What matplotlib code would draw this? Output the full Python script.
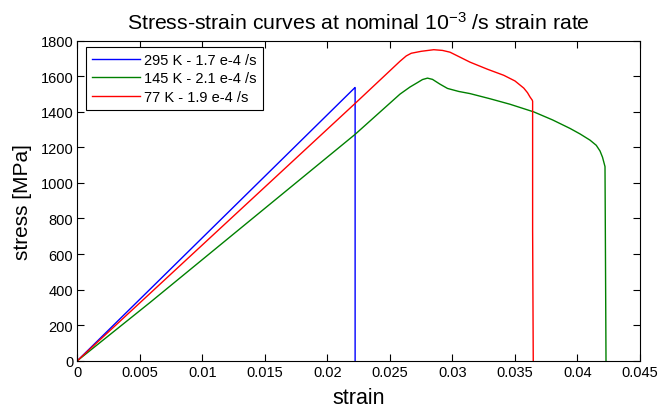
import numpy as np
import matplotlib
matplotlib.use('Agg')
import matplotlib.pyplot as plt

plt.rcParams['font.family'] = ['Liberation Sans', 'DejaVu Sans']
plt.rcParams['mathtext.fontset'] = 'custom'
plt.rcParams['mathtext.rm'] = 'Liberation Sans'
plt.rcParams['mathtext.it'] = 'Liberation Sans'

# 295 K curve
strain_295 = [0.0, 0.0222, 0.02221, 0.02221]
stress_295 = [0, 1537, 1537, 0]

# 145 K curve
strain_145 = [0.0, 0.0058, 0.0222, 0.0258, 0.0266, 0.0272, 0.0276, 0.0280, 0.0284,
              0.0290, 0.0296, 0.0305, 0.0314, 0.0330, 0.0346, 0.0365, 0.0380,
              0.0394, 0.0402, 0.0410, 0.0415, 0.0418, 0.0420, 0.0422, 0.04224, 0.04228]
stress_145 = [0, 327, 1273, 1500, 1540, 1565, 1582, 1590, 1583,
              1556, 1532, 1515, 1503, 1474, 1443, 1400, 1355,
              1307, 1276, 1241, 1212, 1180, 1145, 1092, 554, 0]

# 77 K curve
strain_77 = [0.0, 0.0222, 0.0250, 0.0258, 0.0263, 0.0267, 0.0275, 0.0285, 0.0292,
             0.0298, 0.0306, 0.0314, 0.0328, 0.0341, 0.0350, 0.0357, 0.0360,
             0.0362, 0.03638, 0.03641, 0.03641, 0.03646]
stress_77 = [0, 1447, 1632, 1685, 1715, 1730, 1741, 1750, 1746,
             1736, 1708, 1680, 1640, 1606, 1574, 1534, 1508,
             1484, 1466, 1460, 733, 0]

labels = ['295 K - 1.7 e-4 /s', '145 K - 2.1 e-4 /s', '77 K - 1.9 e-4 /s']

fig = plt.figure(figsize=(6.6, 4.1), dpi=100)
ax = fig.add_axes([0.1174, 0.118, 0.9697 - 0.1174, 0.898 - 0.118])

ax.plot(strain_295, stress_295, color='#0000ff', lw=1.0, label=labels[0])
ax.plot(strain_145, stress_145, color='#008000', lw=1.0, label=labels[1])
ax.plot(strain_77, stress_77, color='#ff0000', lw=1.0, label=labels[2])

ax.set_xlim(0, 0.045)
ax.set_ylim(0, 1800)
ax.set_xticks(np.arange(0, 0.0451, 0.005))
ax.set_xticklabels(['0', '0.005', '0.01', '0.015', '0.02', '0.025', '0.03', '0.035', '0.04', '0.045'])
ax.set_yticks(range(0, 1801, 200))
ax.tick_params(direction='in', length=5, width=0.8, top=True, right=True,
               labelsize=10.5, pad=3, colors='black')
for s in ax.spines.values():
    s.set_linewidth(0.8)

ax.set_xlabel('strain', fontsize=15.5, labelpad=6)
ax.set_ylabel('stress [MPa]', fontsize=15, labelpad=6)
ax.set_title('Stress-strain curves at nominal 10$^{-3}$ /s strain rate', fontsize=15.3, pad=9)

leg = ax.legend(loc='upper left', bbox_to_anchor=(0.0151, 0.9803), borderaxespad=0,
                fontsize=10.5, frameon=True, fancybox=False,
                edgecolor='black', framealpha=1, handlelength=3.3, handletextpad=0.3,
                borderpad=0.4, labelspacing=0.3)
leg.get_frame().set_linewidth(0.8)

fig.savefig('out.png', dpi=100)
